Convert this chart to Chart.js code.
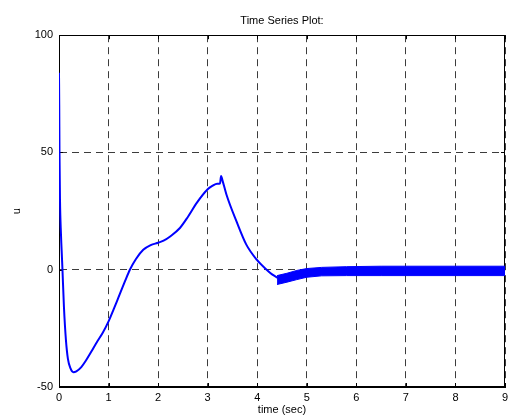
<!DOCTYPE html>
<html>
<head>
<meta charset="utf-8">
<style>
  html, body { margin: 0; padding: 0; background: #fff; }
  #wrap { width: 509px; height: 419px; }
</style>
<script src="https://cdn.jsdelivr.net/npm/chart.js@4"></script>
</head>
<body>
<div id="wrap"><canvas id="c" width="509" height="419"></canvas></div>
<script>
// ---- data ----
const mainT = [0, 0.005, 0.01, 0.02, 0.04, 0.06, 0.07, 0.1, 0.14, 0.18, 0.23, 0.29, 0.35, 0.45, 0.55, 0.65, 0.76, 0.88, 1.0, 1.1, 1.2, 1.33, 1.43, 1.55, 1.7, 1.85, 2.0, 2.11, 2.25, 2.44, 2.6, 2.78, 3.0, 3.1, 3.19, 3.25, 3.27, 3.3, 3.38, 3.58, 3.78, 3.99, 4.19, 4.3, 4.42];
const mainU = [84, 70, 50, 30, 15, 5, 0, -16, -30, -38, -42, -43.7, -43.3, -41.5, -38.5, -35, -31, -27, -22, -17, -11.8, -5, 0, 4.5, 8.5, 10.5, 11.5, 12.4, 14.3, 17.8, 22.5, 28.5, 34.3, 35.8, 36.7, 36.8, 40, 38, 32, 20.7, 10.7, 4.3, 0, -2, -3.5];
const bandT = [4.4, 4.6, 4.8, 5.0, 5.3, 5.8, 6.5, 9];
const bandUpper = [-2.5, -1.5, -0.3, 0.5, 1.0, 1.3, 1.5, 1.5];
const bandLower = [-6.3, -5.3, -4.2, -3.2, -2.6, -2.5, -2.5, -2.5];
const xTicks = [0, 1, 2, 3, 4, 5, 6, 7, 8, 9];
const yTicks = [-50, 0, 50, 100];
const titleText = 'Time Series Plot:';
const xLabel = 'time (sec)';
const yLabel = 'u';

const pts = (xs, ys) => xs.map((x, i) => ({ x: x, y: ys[i] }));
const BLUE = '#0000ff';
const FONT = { family: "'Liberation Sans', Arial, sans-serif", size: 11 };

const frame = {
  id: 'frame',
  beforeDatasetsDraw(chart) {
    const { ctx, chartArea: a, scales } = chart;
    ctx.save();
    ctx.strokeStyle = '#000';
    ctx.lineWidth = 1;
    ctx.strokeRect(Math.round(a.left) + 0.5, Math.round(a.top) + 0.5,
                   Math.round(a.right - a.left) - 1, Math.round(a.bottom - a.top) - 1);
    ctx.beginPath();
    xTicks.forEach(v => {
      const px = Math.round(scales.x.getPixelForValue(v)) + 0.5;
      ctx.moveTo(px, a.bottom); ctx.lineTo(px, a.bottom - 4);
      ctx.moveTo(px, a.top); ctx.lineTo(px, a.top + 4);
    });
    yTicks.forEach(v => {
      const py = Math.round(scales.y.getPixelForValue(v)) + 0.5;
      ctx.moveTo(a.left, py); ctx.lineTo(a.left + 4, py);
      ctx.moveTo(a.right, py); ctx.lineTo(a.right - 4, py);
    });
    ctx.stroke();
    ctx.restore();
  }
};

new Chart(document.getElementById('c'), {
  type: 'line',
  data: {
    datasets: [
      { data: pts(bandT, bandUpper), borderColor: BLUE, borderWidth: 1, pointRadius: 0, fill: false, tension: 0 },
      { data: pts(bandT, bandLower), borderColor: BLUE, borderWidth: 1, pointRadius: 0, fill: '-1', backgroundColor: BLUE, tension: 0 },
      { data: pts(mainT, mainU), borderColor: BLUE, borderWidth: 2, pointRadius: 0, fill: false, cubicInterpolationMode: 'monotone' }
    ]
  },
  options: {
    responsive: false,
    animation: false,
    devicePixelRatio: 1,
    layout: { padding: { right: 0, top: 0 } },
    plugins: {
      legend: { display: false },
      tooltip: { enabled: false },
      title: {
        display: true, text: titleText, fullSize: false, color: '#000',
        font: { family: FONT.family, size: 11, weight: 'normal' },
        padding: { top: 14, bottom: 8 }
      }
    },
    scales: {
      x: {
        type: 'linear', min: 0, max: 9,
        afterFit(s) { s.height = 32; s.paddingRight = 4; },
        afterBuildTicks(s) { s.ticks = xTicks.map(v => ({ value: v })); },
        ticks: { color: '#000', font: FONT, padding: 4, maxRotation: 0, autoSkip: false },
        grid: { color: '#3c3c3c', lineWidth: 1, drawTicks: false },
        border: { display: true, color: '#000', dash: [7, 5] },
        title: { display: true, text: xLabel, color: '#000', font: FONT, padding: { top: 0, bottom: 2 } }
      },
      y: {
        type: 'linear', min: -50, max: 100,
        afterFit(s) { s.width = 59; },
        afterBuildTicks(s) { s.ticks = yTicks.map(v => ({ value: v })); },
        ticks: { color: '#000', font: FONT, padding: 6 },
        grid: { color: '#3c3c3c', lineWidth: 1, drawTicks: false },
        border: { display: true, color: '#000', dash: [7, 5] },
        title: { display: true, text: yLabel, color: '#000', font: FONT, padding: { top: 10, bottom: 0 } }
      }
    }
  },
  plugins: [frame]
});
</script>
</body>
</html>
